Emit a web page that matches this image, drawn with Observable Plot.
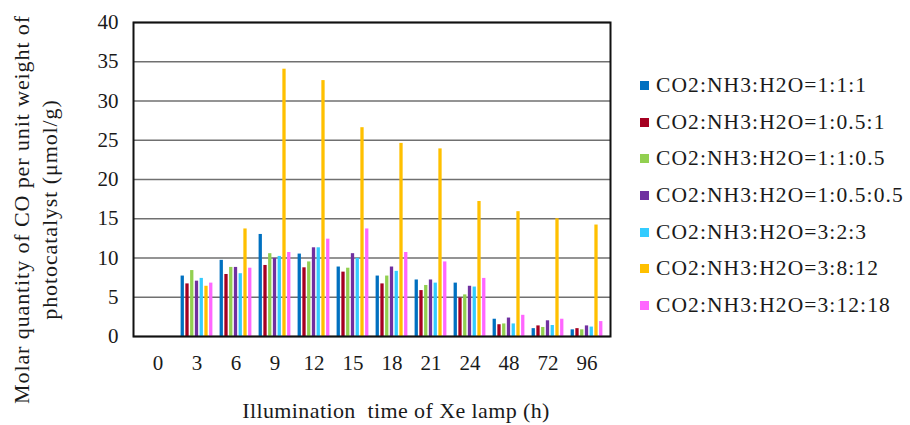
<!DOCTYPE html>
<html>
<head>
<meta charset="utf-8">
<script src="https://cdn.jsdelivr.net/npm/d3@7"></script>
<script src="https://cdn.jsdelivr.net/npm/@observablehq/plot@0.6"></script>
<style>
  body { margin: 0; background: #fff; }
  #wrap { position: relative; width: 910px; height: 425px; font-family: "Liberation Serif", "Times New Roman", serif; color: #1a1a1a; }
  #legend { position: absolute; left: 640px; top: 67px; }
  .row { display: flex; align-items: center; height: 36.7px; font-size: 21.5px; letter-spacing: 1.1px; white-space: nowrap; }
  .sw { width: 9px; height: 9px; margin-right: 7px; flex: none; }
</style>
</head>
<body>
<div id="wrap"><div id="chart"></div><div id="legend"></div></div>
<script>
const times = ["0","3","6","9","12","15","18","21","24","48","72","96"];
const seriesNames = [
  "CO2:NH3:H2O=1:1:1",
  "CO2:NH3:H2O=1:0.5:1",
  "CO2:NH3:H2O=1:1:0.5",
  "CO2:NH3:H2O=1:0.5:0.5",
  "CO2:NH3:H2O=3:2:3",
  "CO2:NH3:H2O=3:8:12",
  "CO2:NH3:H2O=3:12:18"
];
const s1 = [0, 7.7, 9.7, 13.0, 10.5, 8.85, 7.7, 7.2, 6.8, 2.2, 1.0, 0.85];
const s2 = [0, 6.7, 7.9, 9.05, 8.75, 8.2, 6.7, 5.85, 4.9, 1.5, 1.35, 1.0];
const s3 = [0, 8.4, 8.8, 10.55, 9.5, 8.7, 7.7, 6.5, 5.3, 1.6, 1.15, 0.85];
const s4 = [0, 7.05, 8.8, 9.95, 11.3, 10.55, 8.85, 7.2, 6.4, 2.35, 2.0, 1.35];
const s5 = [0, 7.4, 8.0, 10.2, 11.3, 9.95, 8.3, 6.8, 6.3, 1.6, 1.4, 1.2];
const s6 = [0, 6.4, 13.7, 34.05, 32.6, 26.6, 24.6, 23.9, 17.2, 15.9, 15.0, 14.2];
const s7 = [0, 6.8, 8.7, 10.7, 12.4, 13.7, 10.7, 9.5, 7.4, 2.7, 2.2, 1.9];
const yTicks = [0, 5, 10, 15, 20, 25, 30, 35, 40];
const colors = ["#0070C0", "#A50021", "#92D050", "#7030A0", "#33CCFF", "#FFC000", "#FF66FF"];
const yLabel = "Molar quantity of CO per unit weight of\nphotocatalyst (μmol/g)";
const xLabel = "Illumination  time of Xe lamp (h)";

const allSeries = [s1, s2, s3, s4, s5, s6, s7];
const W = 630, H = 425, mL = 133, mR = 20, mT = 22, mB = 89;
const bw = (W - mL - mR) / times.length;
const bar = 4.75;
const off = (bw - bar * allSeries.length) / 2;

const barMarks = allSeries.map((s, i) =>
  Plot.barY(times.map((t, j) => ({time: t, value: s[j]})), {
    x: "time", y: "value", fill: colors[i],
    insetLeft: off + i * bar + 0.35,
    insetRight: bw - off - (i + 1) * bar + 0.35
  })
);

const chart = Plot.plot({
  width: W, height: H,
  marginLeft: mL, marginRight: mR, marginTop: mT, marginBottom: mB,
  style: {fontFamily: "'Liberation Serif', 'Times New Roman', serif", fontSize: "21px", color: "#1a1a1a", background: "#fff", overflow: "visible"},
  x: {domain: times, padding: 0, label: null},
  y: {domain: [0, 40], label: null},
  marks: [
    Plot.gridY(yTicks, {stroke: "#707070", strokeOpacity: 1, strokeWidth: 1.6}),
    ...barMarks,
    Plot.frame({stroke: "#111", strokeWidth: 2}),
    Plot.axisY(yTicks, {tickSize: 0, tickPadding: 15, label: null, fontSize: 21}),
    Plot.axisX({tickSize: 0, tickPadding: 19, label: null, fontSize: 21}),
    Plot.text([yLabel], {text: d => d, frameAnchor: "left", textAnchor: "middle", lineAnchor: "middle", rotate: -90, dx: -99, dy: 30, lineHeight: 1.27, fontSize: 22, fill: "#1a1a1a"}),
    Plot.text([xLabel], {text: d => d, frameAnchor: "bottom", textAnchor: "middle", lineAnchor: "middle", dx: 24, dy: 74, fontSize: 22, fill: "#1a1a1a"})
  ]
});
d3.select(chart).selectAll("text").each(function() {
  const t = this.textContent;
  if (t.startsWith("Illumination")) d3.select(this).attr("letter-spacing", "0.4px");
  if (t.startsWith("Molar")) d3.select(this).attr("letter-spacing", "0.9px");
});
document.getElementById("chart").appendChild(chart);

const leg = document.getElementById("legend");
seriesNames.forEach((n, i) => {
  const r = document.createElement("div");
  r.className = "row";
  r.innerHTML = `<div class="sw" style="background:${colors[i]}"></div><span>${n}</span>`;
  leg.appendChild(r);
});
</script>
</body>
</html>
